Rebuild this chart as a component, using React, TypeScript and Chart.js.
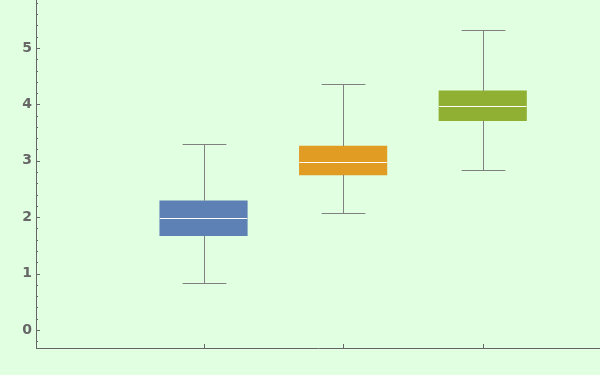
import React, { useEffect, useRef } from "react";
import { Chart, registerables } from "chart.js";

Chart.register(...registerables);

// Box plot data (x positions of the three groups and their five-number summaries)
const positions = [1, 2, 3];
const whiskerLow = [0.83, 2.07, 2.83];
const q1 = [1.67, 2.75, 3.71];
const median = [1.98, 2.97, 3.97];
const q3 = [2.29, 3.26, 4.24];
const whiskerHigh = [3.29, 4.36, 5.31];
const boxColors = ["#5e81b5", "#e19c24", "#8fb032"];
const yTickValues = [0, 1, 2, 3, 4, 5];

const BG = "#e1ffe1";
const AXIS = "#666666";
const WHISKER = "#808080";

const boxPlugin = {
  id: "boxExtras",
  afterDatasetsDraw(chart: any) {
    const ctx = chart.ctx;
    const y = chart.scales.y;
    const meta = chart.getDatasetMeta(0);
    ctx.save();
    meta.data.forEach((el: any, i: number) => {
      const { x, width } = el.getProps(["x", "width"], true);
      const cx = Math.round(x) + 0.5;
      const capHalf = width / 4;
      const pHigh = Math.round(y.getPixelForValue(whiskerHigh[i])) + 0.5;
      const pQ3 = y.getPixelForValue(q3[i]);
      const pQ1 = y.getPixelForValue(q1[i]);
      const pLow = Math.round(y.getPixelForValue(whiskerLow[i])) + 0.5;
      const pMed = Math.round(y.getPixelForValue(median[i])) + 0.5;
      ctx.strokeStyle = WHISKER;
      ctx.lineWidth = 1;
      ctx.beginPath();
      ctx.moveTo(cx, pHigh);
      ctx.lineTo(cx, pQ3);
      ctx.moveTo(cx - capHalf, pHigh);
      ctx.lineTo(cx + capHalf, pHigh);
      ctx.moveTo(cx, pQ1);
      ctx.lineTo(cx, pLow);
      ctx.moveTo(cx - capHalf, pLow);
      ctx.lineTo(cx + capHalf, pLow);
      ctx.stroke();
      ctx.strokeStyle = "#ffffff";
      ctx.beginPath();
      ctx.moveTo(x - width / 2, pMed);
      ctx.lineTo(x + width / 2, pMed);
      ctx.stroke();
    });
    ctx.restore();
  },
  afterDraw(chart: any) {
    const ctx = chart.ctx;
    const { left, bottom, top } = chart.chartArea;
    const y = chart.scales.y;
    const x = chart.scales.x;
    ctx.save();
    ctx.strokeStyle = AXIS;
    ctx.lineWidth = 1;
    ctx.beginPath();
    // y ticks: majors at integers, minors every 0.2
    for (let k = Math.ceil(y.min * 5); k <= Math.floor(y.max * 5); k++) {
      const v = k / 5;
      const py = Math.round(y.getPixelForValue(v)) + 0.5;
      if (py < top || py > bottom) continue;
      const major = k % 5 === 0;
      ctx.moveTo(left, py);
      ctx.lineTo(left + (major ? 4 : 2), py);
    }
    // x ticks at group positions
    positions.forEach((p) => {
      const px = Math.round(x.getPixelForValue(p)) + 0.5;
      ctx.moveTo(px, bottom);
      ctx.lineTo(px, bottom - 4);
    });
    ctx.stroke();
    ctx.restore();
  },
};

export default function App() {
  const ref = useRef<HTMLCanvasElement | null>(null);

  useEffect(() => {
    document.body.style.margin = "0";
    document.body.style.background = BG;
    const canvas = ref.current!;
    const chart = new Chart(canvas, {
      type: "bar",
      data: {
        datasets: [
          {
            data: positions.map((p, i) => ({ x: p, y: [q1[i], q3[i]] })) as any,
            backgroundColor: boxColors,
            borderWidth: 0,
            barThickness: 87.5,
          },
        ],
      },
      options: {
        responsive: false,
        animation: false,
        layout: { padding: 0 },
        plugins: { legend: { display: false }, tooltip: { enabled: false } },
        scales: {
          x: {
            type: "linear",
            offset: false,
            min: -0.2,
            max: 3.84,
            grid: { display: false, drawTicks: false, offset: false },
            border: { display: true, color: AXIS, width: 1 },
            ticks: { display: false },
            afterFit(scale: any) {
              scale.height = 27;
              scale.paddingLeft = 0;
              scale.paddingRight = 0;
            },
          },
          y: {
            type: "linear",
            min: -0.32,
            max: 5.85,
            grid: { display: false, drawTicks: false },
            border: { display: true, color: AXIS, width: 1 },
            afterBuildTicks(scale: any) {
              scale.ticks = yTickValues.map((v) => ({ value: v }));
            },
            ticks: {
              padding: 4,
              color: AXIS,
              font: { family: "'DejaVu Sans', sans-serif", size: 14, weight: "bold" },
            },
            afterFit(scale: any) {
              scale.width = 36;
              scale.paddingTop = 0;
              scale.paddingBottom = 0;
            },
          },
        },
      },
      plugins: [boxPlugin],
    });
    return () => chart.destroy();
  }, []);

  return (
    <div style={{ width: 600, height: 375, background: BG }}>
      <canvas ref={ref} width={600} height={375} style={{ display: "block" }} />
    </div>
  );
}
